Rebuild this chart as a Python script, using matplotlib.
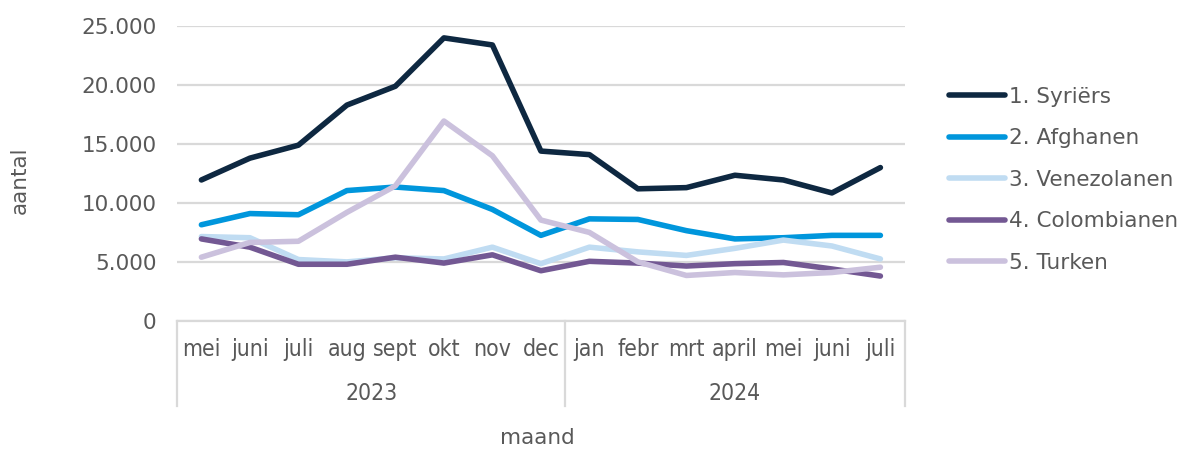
import matplotlib.pyplot as plt
import matplotlib.transforms as mtransforms

# month labels and year groups
months = ['mei', 'juni', 'juli', 'aug', 'sept', 'okt', 'nov', 'dec',
          'jan', 'febr', 'mrt', 'april', 'mei', 'juni', 'juli']
years = ['2023', '2024']
year_sizes = [8, 7]

syriers = [11950, 13800, 14900, 18300, 19900, 24000, 23400, 14400,
           14100, 11200, 11300, 12350, 11950, 10850, 13000]
afghanen = [8150, 9100, 9000, 11050, 11350, 11050, 9450, 7250,
            8650, 8600, 7650, 6950, 7050, 7250, 7250]
venezolanen = [7150, 7050, 5200, 5000, 5350, 5250, 6250, 4850,
               6250, 5850, 5550, 6150, 6850, 6350, 5250]
colombianen = [6950, 6250, 4800, 4800, 5400, 4900, 5600, 4250,
               5050, 4900, 4650, 4850, 4950, 4400, 3800]
turken = [5400, 6650, 6750, 9200, 11450, 16950, 14000, 8550,
          7500, 5000, 3850, 4100, 3900, 4100, 4550]

series = [
    ('1. Syriërs', syriers, '#0e2841'),
    ('2. Afghanen', afghanen, '#0096dc'),
    ('3. Venezolanen', venezolanen, '#c0dcf2'),
    ('4. Colombianen', colombianen, '#735893'),
    ('5. Turken', turken, '#cbc1dd'),
]

txt = '#595959'
grid = '#d9d9d9'
fs = 15.5

fig = plt.figure(figsize=(11.81, 4.5), dpi=100)
ax = fig.add_axes([0.15, 0.287, 0.616, 0.655])

x = list(range(len(months)))
for label, vals, col in series:
    ax.plot(x, vals, color=col, lw=4, label=label, solid_capstyle='round',
            solid_joinstyle='round')

ax.set_xlim(-0.5, len(months) - 0.5)
ax.set_ylim(0, 25000)
ax.set_yticks(range(0, 25001, 5000))
ax.set_yticklabels([f'{v:,}'.replace(',', '.') for v in range(0, 25001, 5000)],
                   fontsize=fs, color=txt)
ax.yaxis.grid(True, color=grid, lw=1.6)
ax.set_axisbelow(True)
for s in ['top', 'right', 'left']:
    ax.spines[s].set_visible(False)
ax.spines['bottom'].set_color(grid)
ax.spines['bottom'].set_linewidth(1.6)
ax.tick_params(axis='y', length=0, pad=15)
ax.tick_params(axis='x', length=0, pad=12)
ax.set_xticks(x)
ax.set_xticklabels(months, fontsize=16.5, color=txt, family='DejaVu Sans',
                   stretch='condensed')

# group separators and year labels
trans = mtransforms.blended_transform_factory(ax.transData, ax.transAxes)
bounds = [-0.5]
for n in year_sizes:
    bounds.append(bounds[-1] + n)
for b in bounds:
    ax.plot([b, b], [0, -0.29], transform=trans, color=grid, lw=1.6,
            clip_on=False)
for i, yr in enumerate(years):
    ax.text((bounds[i] + bounds[i + 1]) / 2, -0.245, yr, transform=trans,
            ha='center', va='center', fontsize=16.5, color=txt,
            family='DejaVu Sans', stretch='condensed')

fig.text(0.455, 0.005, 'maand', ha='center', va='bottom', fontsize=fs,
         color=txt)
fig.text(0.008, 0.6, 'aantal', ha='left', va='center', rotation=90,
         fontsize=fs, color=txt)

ax.legend(loc='upper left', bbox_to_anchor=(1.04, 0.846), frameon=False,
          fontsize=fs, labelcolor=txt, handlelength=2.6, handletextpad=0.2,
          labelspacing=1.0, borderaxespad=0.3)

fig.savefig('out.png', dpi=100)
